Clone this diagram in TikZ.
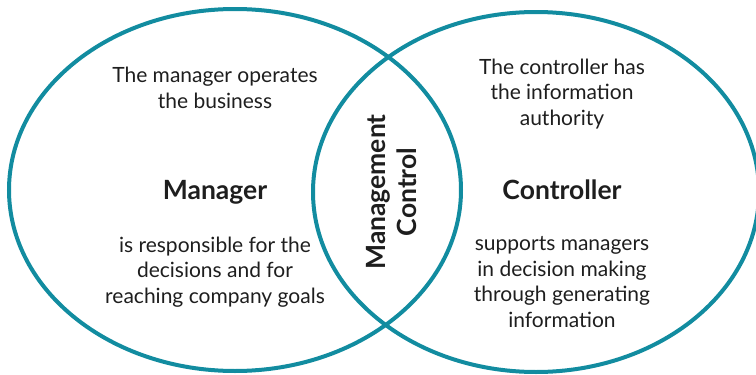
\documentclass[tikz,border=0pt]{standalone}
\usepackage{fontspec}
\setmainfont{Lato}
\definecolor{ring}{RGB}{18,140,160}
\definecolor{txt}{RGB}{30,30,30}
\begin{document}
\begin{tikzpicture}[x=1pt,y=-1pt,
  ringline/.style={draw=ring,line width=4pt},
  body/.style={align=center,font=\fontsize{21}{25.5}\selectfont,text=txt,inner sep=0pt},
  title/.style={align=center,font=\fontsize{26.5}{31}\bfseries\selectfont,text=txt,inner sep=0pt}]
\useasboundingbox (0,0) rectangle (756,375);
\begin{scope}
\clip (0,0) rectangle (756,375);
\draw[ringline] (235,190) ellipse [x radius=226, y radius=181];
\draw[ringline] (536,192) ellipse [x radius=223, y radius=180];
\end{scope}
\node[body] (mtop) at (215,88) {The manager operates\\the business};
\node[title] (mgr) at (215,192) {Manager};
\node[body] (mbot) at (215,272) {is responsible for the\\decisions and for\\reaching company goals};
\node[title,rotate=90] (mc) at (392,192) {Management\\Control};
\node[body] (ctop) at (562,94) {The controller has\\the information\\authority};
\node[title] (ctl) at (562,190) {Controller};
\node[body] (cbot) at (562,282) {supports managers\\in decision making\\through generating\\information};
\end{tikzpicture}
\end{document}
